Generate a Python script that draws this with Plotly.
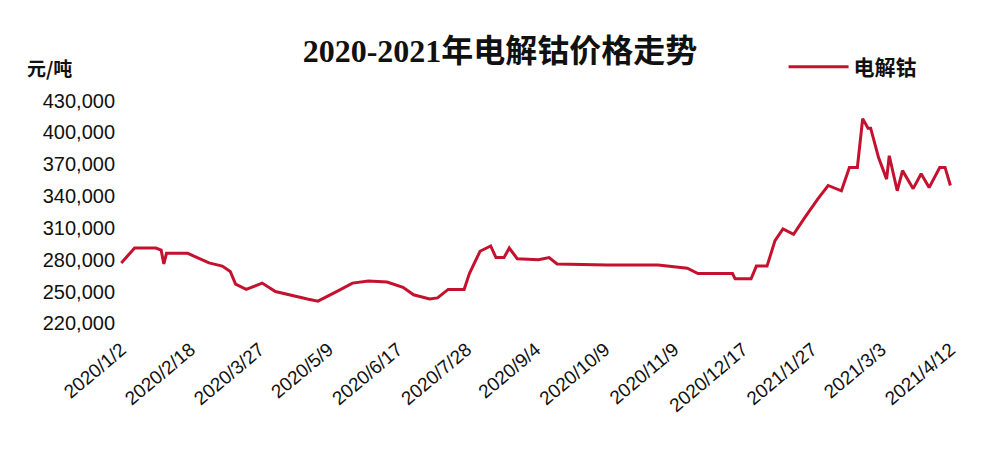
import plotly.graph_objects as go

idx = [0,5,13,15,16,17,25,33,38,41,43,47,53,58,70,74,81,87,93,100,106,110,116,119,123,129,131,135,139,141,144,146,149,157,161,164,183,202,213,217,230,231,237,239,243,246,249,253,257,262,266,271,274,277,279,281,282,285,288,289,292,294,298,301,304,308,310,312]
price = [277000,291000,291000,289000,276000,286000,286000,277000,274000,269000,257000,252000,258000,250000,243000,241000,250000,258000,260000,259000,254000,247000,243000,244000,252000,252000,267000,288000,293000,282000,282000,291000,281000,280000,282000,276000,275000,275000,272000,267000,267000,262000,262000,274000,274000,298000,309000,304000,319000,337000,350000,345000,367000,367000,413000,404000,404000,376000,356000,378000,345000,364000,347000,361000,348000,367000,367000,350000]
tick_pos = [0,26,52,78,104,130,156,182,208,234,260,286,312]
tick_text = ["2020/1/2","2020/2/18","2020/3/27","2020/5/9","2020/6/17","2020/7/28","2020/9/4","2020/10/9","2020/11/9","2020/12/17","2021/1/27","2021/3/3","2021/4/12"]
y_ticks = [220000,250000,280000,310000,340000,370000,400000,430000]

fig = go.Figure(go.Scatter(x=idx, y=price, mode="lines", name="<b>电解钴</b>",
                           line=dict(color="#c3112f", width=3)))
fig.update_layout(
    width=984, height=454, paper_bgcolor="white", plot_bgcolor="white",
    margin=dict(l=108, r=31, t=82, b=128),
    title=dict(text="<b>2020-2021年电解钴价格走势</b>", x=0.5, xanchor="center", y=0.905, yanchor="middle",
               font=dict(family="Liberation Serif, Noto Sans CJK SC", size=32, color="#111")),
    showlegend=True,
    legend=dict(x=0.79, y=1.01, xanchor="left", yanchor="bottom", font=dict(size=21, color="#111", family="Noto Sans CJK SC"),
                bgcolor="rgba(0,0,0,0)", itemwidth=60),
    font=dict(family="Liberation Sans, Noto Sans CJK SC", color="#111"),
)
fig.update_xaxes(range=[-2, 316], tickvals=tick_pos, ticktext=tick_text, tickangle=-40,
                 showgrid=False, zeroline=False, showline=False, ticks="", tickfont=dict(size=19), automargin=False)
fig.update_yaxes(range=[210000, 440000], tickvals=y_ticks, tickformat=",", showgrid=False, zeroline=False,
                 showline=False, ticks="", tickfont=dict(size=20), automargin=False)
fig.add_annotation(text="<b>元/吨</b>", xref="paper", yref="paper", x=-0.108, y=1.03, xanchor="left", yanchor="bottom",
                   showarrow=False, font=dict(size=19, family="Noto Sans CJK SC", color="#111"))
fig.write_html("out.html")
